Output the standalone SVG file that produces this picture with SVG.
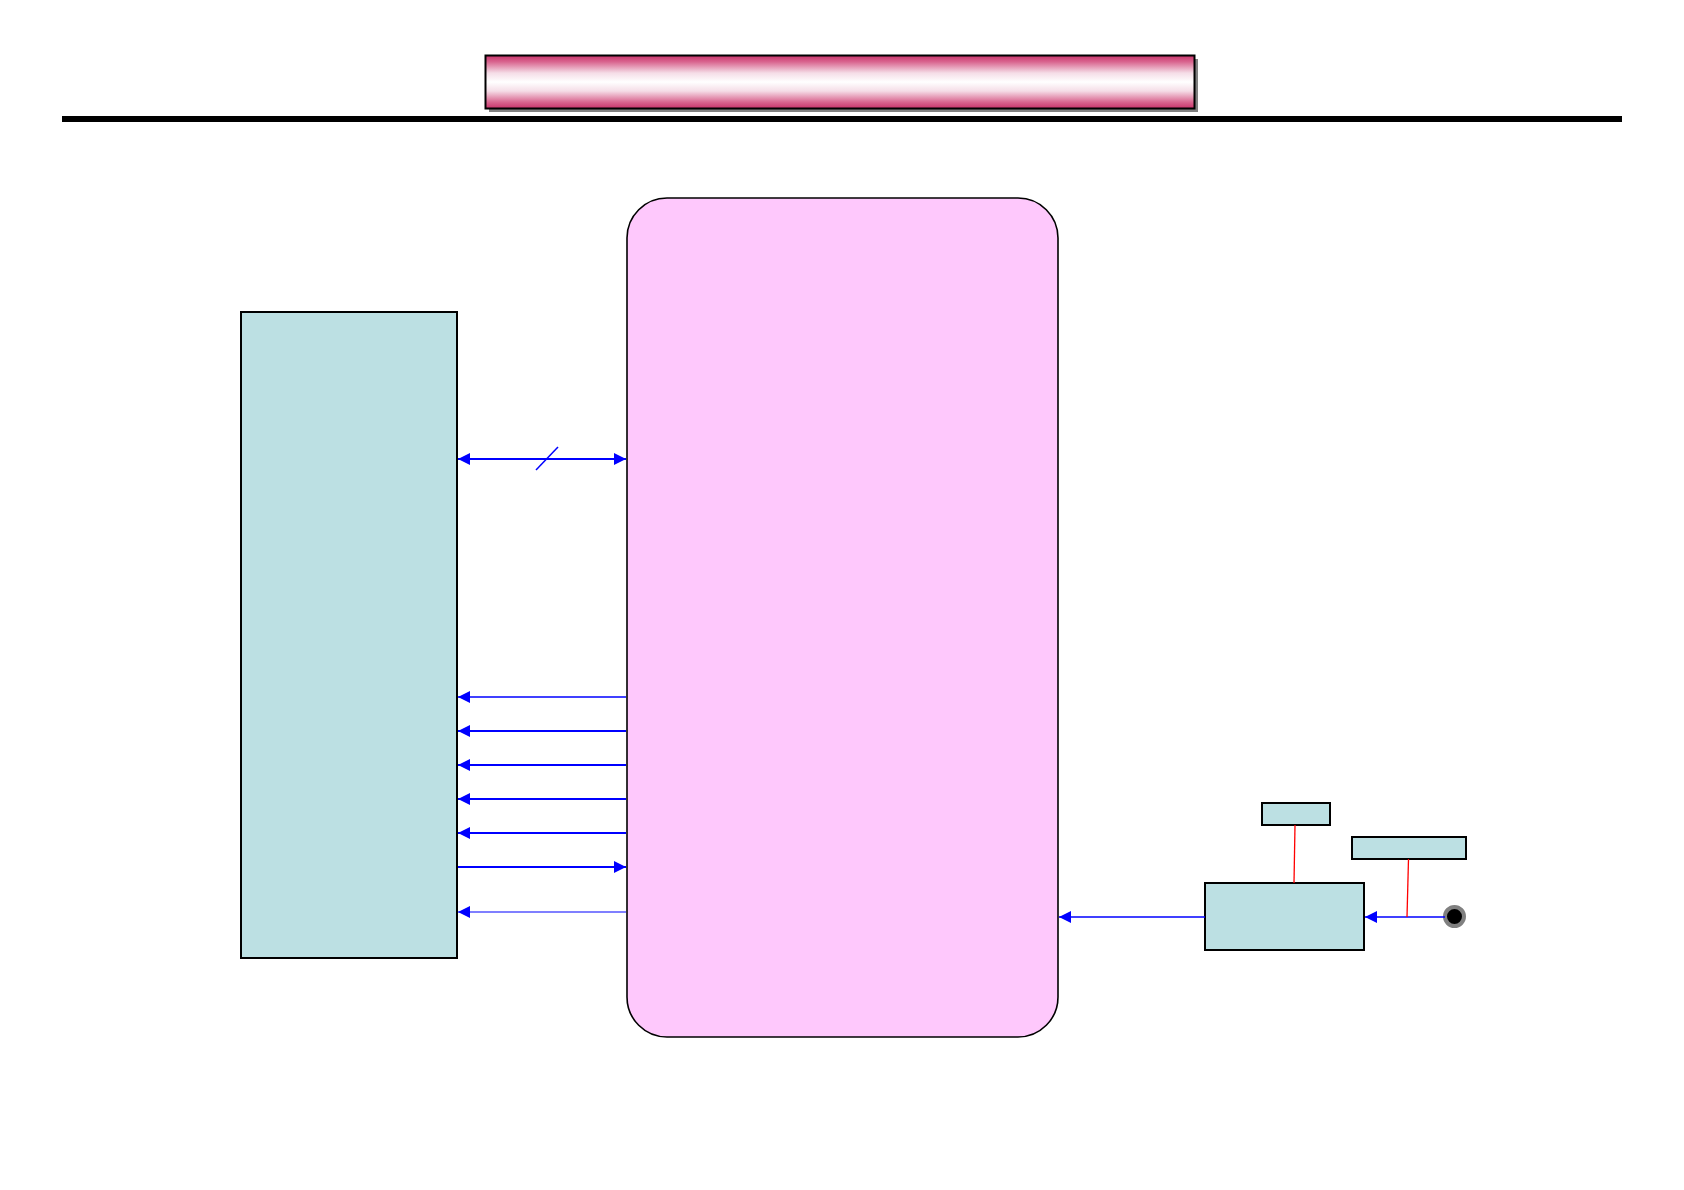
<svg xmlns="http://www.w3.org/2000/svg" width="1684" height="1190" viewBox="0 0 1684 1190">
<defs>
<linearGradient id="tg" x1="0" y1="0" x2="0" y2="1">
<stop offset="0" stop-color="#c8336a"/>
<stop offset="0.12" stop-color="#d9658f"/>
<stop offset="0.33" stop-color="#f5dde7"/>
<stop offset="0.5" stop-color="#ffffff"/>
<stop offset="0.67" stop-color="#f5dde7"/>
<stop offset="0.88" stop-color="#d9658f"/>
<stop offset="1" stop-color="#c8336a"/>
</linearGradient>
<marker id="ah" viewBox="0 0 12 12" refX="12" refY="6" markerWidth="12" markerHeight="12" markerUnits="userSpaceOnUse" orient="auto-start-reverse">
<path d="M0,0 L12,6 L0,12 z" fill="#0000ff"/>
</marker>
</defs>
<style>
.teal{fill:#bce0e3;stroke:#000;stroke-width:2}
.blue{stroke:#0000ff;stroke-width:2;fill:none}
.red{stroke:#ff0000;stroke-width:1.3;fill:none}
</style>
<rect width="1684" height="1190" fill="#fff"/>
<g id="title">
<rect x="489" y="59" width="709" height="53" fill="#808080"/>
<rect x="485.5" y="55.5" width="709" height="53" fill="url(#tg)" stroke="#000" stroke-width="2"/>
</g>
<g id="rule">
<rect x="62" y="116" width="1560" height="6" fill="#000"/>
</g>
<g id="left-block">
<rect class="teal" x="241" y="312" width="216" height="646"/>
</g>
<g id="main-block">
<rect x="627" y="198" width="431" height="839" rx="40" ry="40" fill="#fec8fc" stroke="#000" stroke-width="1.6"/>
</g>
<g id="mid-box">
<rect class="teal" x="1205" y="883" width="159" height="67"/>
</g>
<g id="top-box">
<rect class="teal" x="1262" y="803" width="68" height="22"/>
</g>
<g id="right-box">
<rect class="teal" x="1352" y="837" width="114" height="22"/>
</g>
<g id="jack">
<circle cx="1454.5" cy="916.5" r="9.5" fill="#000" stroke="#808080" stroke-width="4"/>
</g>
<g id="connectors">
<line class="blue" x1="458" y1="459" x2="626" y2="459" marker-start="url(#ah)" marker-end="url(#ah)"/>
<line x1="536" y1="470" x2="558" y2="447" stroke="#0000ff" stroke-width="1.5"/>
<line class="blue" x1="626" y1="697" x2="458" y2="697" marker-end="url(#ah)" style="stroke-width:1.6"/>
<line class="blue" x1="626" y1="731" x2="458" y2="731" marker-end="url(#ah)"/>
<line class="blue" x1="626" y1="765" x2="458" y2="765" marker-end="url(#ah)"/>
<line class="blue" x1="626" y1="799" x2="458" y2="799" marker-end="url(#ah)"/>
<line class="blue" x1="626" y1="833" x2="458" y2="833" marker-end="url(#ah)"/>
<line class="blue" x1="458" y1="867" x2="626" y2="867" marker-end="url(#ah)"/>
<line class="blue" x1="626" y1="912" x2="458" y2="912" marker-end="url(#ah)" style="stroke-width:1.2"/>
<line class="blue" x1="1205" y1="917" x2="1059" y2="917" marker-end="url(#ah)" style="stroke-width:1.6"/>
<line class="blue" x1="1445" y1="917" x2="1365" y2="917" marker-end="url(#ah)" style="stroke-width:1.6"/>
<line class="red" x1="1295" y1="825" x2="1294" y2="883"/>
<line class="red" x1="1408.5" y1="859" x2="1407" y2="917"/>
</g>
</svg>
